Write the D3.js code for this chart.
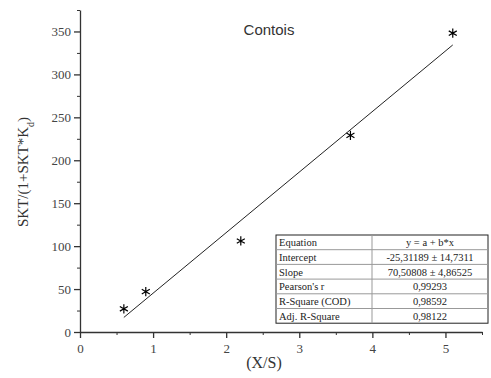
<!DOCTYPE html>
<html><head>
<meta charset="utf-8">
<script src="https://d3js.org/d3.v7.min.js"></script>
<style>
  body { margin: 0; background: #fff; }
  text { font-family: "Liberation Serif", "Times New Roman", serif; }
</style>
</head>
<body>
<div id="chart"></div>
<script>
  // data
  const xValues = [0.6, 0.9, 2.2, 3.7, 5.1];
  const yValues = [27, 47, 106, 229, 348];
  const intercept = -25.31189;
  const slope = 70.50808;
  const xTicks = [0, 1, 2, 3, 4, 5];
  const yTicks = [0, 50, 100, 150, 200, 250, 300, 350];
  const tableLabels = ["Equation", "Intercept", "Slope", "Pearson's r", "R-Square (COD)", "Adj. R-Square"];
  const tableValues = ["y = a + b*x", "-25,31189 \u00b1 14,7311", "70,50808 \u00b1 4,86525", "0,99293", "0,98592", "0,98122"];

  const width = 491, height = 378;
  const margin = { top: 10, right: 9, bottom: 46, left: 80 };
  const chartWidth = width - margin.left - margin.right;
  const chartHeight = height - margin.top - margin.bottom;

  const svg = d3.select("#chart").append("svg")
                .attr("width", width).attr("height", height);
  const g = svg.append("g").attr("transform", "translate(" + margin.left + "," + margin.top + ")");

  const xScale = d3.scaleLinear().domain([0, 5.5]).range([0, chartWidth]);
  const yScale = d3.scaleLinear().domain([0, 375]).range([chartHeight, 0]);

  // minor ticks first, then the major axis
  g.append("g").attr("transform", "translate(0," + chartHeight + ")")
   .call(d3.axisBottom(xScale).tickValues(d3.range(0.5, 5.6, 1)).tickSize(3).tickFormat(""))
   .call(a => a.select(".domain").remove());
  g.append("g")
   .call(d3.axisLeft(yScale).tickValues(d3.range(25, 376, 50)).tickSize(3).tickFormat(""))
   .call(a => a.select(".domain").remove());

  const xAxis = g.append("g").attr("transform", "translate(0," + chartHeight + ")")
                 .call(d3.axisBottom(xScale).tickValues(xTicks).tickSize(6).tickSizeOuter(0).tickFormat(d3.format("d")));
  const yAxis = g.append("g")
                 .call(d3.axisLeft(yScale).tickValues(yTicks).tickSize(6).tickSizeOuter(0));

  [xAxis, yAxis].forEach(a => {
    a.selectAll("path, line").attr("stroke", "#333").attr("stroke-width", 1.3);
    a.selectAll("text").attr("fill", "#444").style("font-size", "13px")
     .style("font-family", "'Liberation Serif', serif");
  });
  xAxis.selectAll("text").attr("dy", "0.95em");
  g.selectAll(".tick line").attr("stroke", "#333");

  // fit line
  const x0 = d3.min(xValues), x1 = d3.max(xValues);
  g.append("line")
   .attr("x1", xScale(x0)).attr("y1", yScale(intercept + slope * x0))
   .attr("x2", xScale(x1)).attr("y2", yScale(intercept + slope * x1))
   .attr("stroke", "#222").attr("stroke-width", 1);

  // asterisk markers
  const star = d3.symbol().type(d3.symbolAsterisk).size(60);
  g.selectAll(".pt").data(xValues).join("path")
   .attr("class", "pt")
   .attr("d", star)
   .attr("transform", (d, i) => "translate(" + xScale(d) + "," + yScale(yValues[i]) + ")")
   .attr("stroke", "#000").attr("stroke-width", 1.2).attr("fill", "none");

  // title
  svg.append("text").attr("x", 269).attr("y", 35).attr("text-anchor", "middle")
     .style("font-family", "'Liberation Sans', Arial, sans-serif").style("font-size", "15px")
     .attr("fill", "#333").text("Contois");

  // axis titles
  svg.append("text").attr("x", 264).attr("y", 368).attr("text-anchor", "middle")
     .style("font-size", "16px").attr("fill", "#333").text("(X/S)");
  const yl = svg.append("text").attr("transform", "translate(28,172) rotate(-90)")
     .attr("text-anchor", "middle").style("font-size", "15px").attr("fill", "#333");
  yl.append("tspan").text("SKT/(1+SKT*K");
  yl.append("tspan").attr("baseline-shift", "sub").style("font-size", "10px").text("d");
  yl.append("tspan").text(")");

  // stats table
  const tx = 276, ty = 235, tw = 212, rowH = 14.7, split = 96;
  const table = svg.append("g").attr("transform", "translate(" + tx + "," + ty + ")");
  table.append("rect").attr("width", tw).attr("height", rowH * tableLabels.length)
       .attr("fill", "#fff").attr("stroke", "#222").attr("stroke-width", 1);
  table.selectAll(".rl").data(d3.range(1, tableLabels.length)).join("line")
       .attr("x1", 0).attr("x2", tw).attr("y1", d => d * rowH).attr("y2", d => d * rowH)
       .attr("stroke", "#999");
  table.append("line").attr("x1", split).attr("x2", split).attr("y1", 0).attr("y2", rowH * tableLabels.length)
       .attr("stroke", "#999");
  table.selectAll(".lab").data(tableLabels).join("text")
       .attr("x", 3).attr("y", (d, i) => i * rowH + rowH / 2 + 4)
       .style("font-size", "10.5px").attr("fill", "#222").text(d => d);
  table.selectAll(".val").data(tableValues).join("text")
       .attr("x", split + (tw - split) / 2).attr("y", (d, i) => i * rowH + rowH / 2 + 4)
       .attr("text-anchor", "middle")
       .style("font-size", "10.5px").attr("fill", "#222").text(d => d);
</script>
</body>
</html>
